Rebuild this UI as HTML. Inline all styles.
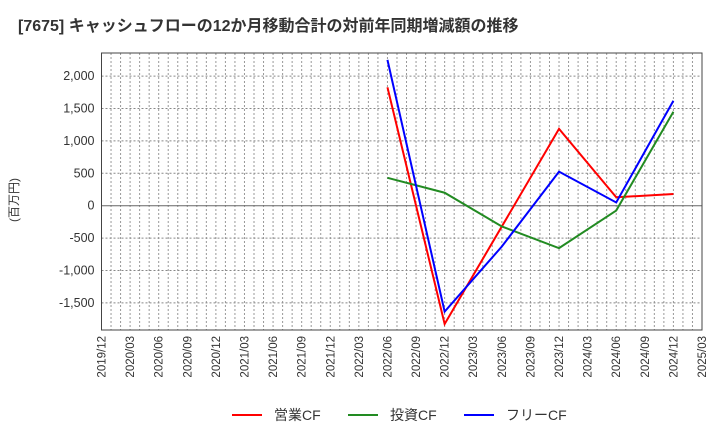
<!DOCTYPE html>
<html><head><meta charset="utf-8"><style>
body{margin:0;background:#fff;font-family:"Liberation Sans","Noto Sans CJK JP",sans-serif;}
svg text{font-family:"Liberation Sans","Noto Sans CJK JP",sans-serif;}
</style></head><body>
<svg id="c" width="720" height="440" xmlns="http://www.w3.org/2000/svg">
<text x="18" y="31" font-size="16" font-weight="bold" fill="#333">[7675]  キャッシュフローの12か月移動合計の対前年同期増減額の推移</text>
<text transform="translate(18,200) rotate(-90)" font-size="12" fill="#333" text-anchor="middle">(百万円)</text>
<g id="grid"></g><g id="axes"></g><g id="series"></g><g id="legend"></g>
</svg>
<script>
const xLabels=["2019/12","2020/03","2020/06","2020/09","2020/12","2021/03","2021/06","2021/09","2021/12","2022/03","2022/06","2022/09","2022/12","2023/03","2023/06","2023/09","2023/12","2024/03","2024/06","2024/09","2024/12","2025/03"];
const yTicks=[2000,1500,1000,500,0,-500,-1000,-1500];
const yTickLabels=["2,000","1,500","1,000","500","0","-500","-1,000","-1,500"];
const pointDates=["2022/06","2022/12","2023/06","2023/12","2024/06","2024/12"];
const opCF=[1827,-1825,-320,1185,130,180];
const invCF=[430,200,-320,-655,-75,1450];
const freeCF=[2250,-1635,-630,525,50,1620];
const names=["営業CF","投資CF","フリーCF"];
const colors=["#ff0000","#228b22","#0000ff"];
const L=101.5,R=702,T=53,B=330;
const x=i=>L+(R-L)*i/(xLabels.length-1);
const y=v=>205.7-v*0.0648;
const NS="http://www.w3.org/2000/svg";
function mk(tag,attrs,parent){const e=document.createElementNS(NS,tag);for(const k in attrs)e.setAttribute(k,attrs[k]);document.getElementById(parent).appendChild(e);return e;}
for(let m=1;m<(xLabels.length-1)*3;m++){const xx=L+(R-L)*m/((xLabels.length-1)*3);
const g=mk("line",{x1:xx,x2:xx,y1:T,y2:B,stroke:"#999","stroke-dasharray":"2,2","stroke-width":1},"grid");

}
yTicks.forEach((v,i)=>{const yy=y(v);
const g=mk("line",{x1:L,x2:R,y1:yy,y2:yy,stroke:v===0?"#666":"#888","stroke-dasharray":v===0?"":"2,2","stroke-width":1},"grid");


const t=mk("text",{x:L-7,y:yy+4,"font-size":12.5,fill:"#333","text-anchor":"end"},"axes");
t.textContent=yTickLabels[i];

});
xLabels.forEach((l,i)=>{const t=mk("text",{transform:`translate(${x(i)+4},${B+6}) rotate(-90)`,"font-size":11.5,fill:"#333","text-anchor":"end"},"axes");
t.textContent=l;

});
const fr=mk("rect",{x:L,y:T,width:R-L,height:B-T,fill:"none",stroke:"#444","stroke-width":1},"axes");


[opCF,invCF,freeCF].forEach((s,k)=>{const pts=s.map((v,i)=>x(xLabels.indexOf(pointDates[i]))+","+y(v)).join(" ");
const p=mk("polyline",{points:pts,fill:"none",stroke:colors[k],"stroke-width":2},"series");

});
const lx=[232,348,464];
names.forEach((n,k)=>{const l=mk("line",{x1:lx[k],x2:lx[k]+30,y1:415,y2:415,stroke:colors[k],"stroke-width":2},"legend");


const t=mk("text",{x:lx[k]+42,y:420,"font-size":14,fill:"#333"},"legend");
t.textContent=n;

});
</script>
</body></html>
